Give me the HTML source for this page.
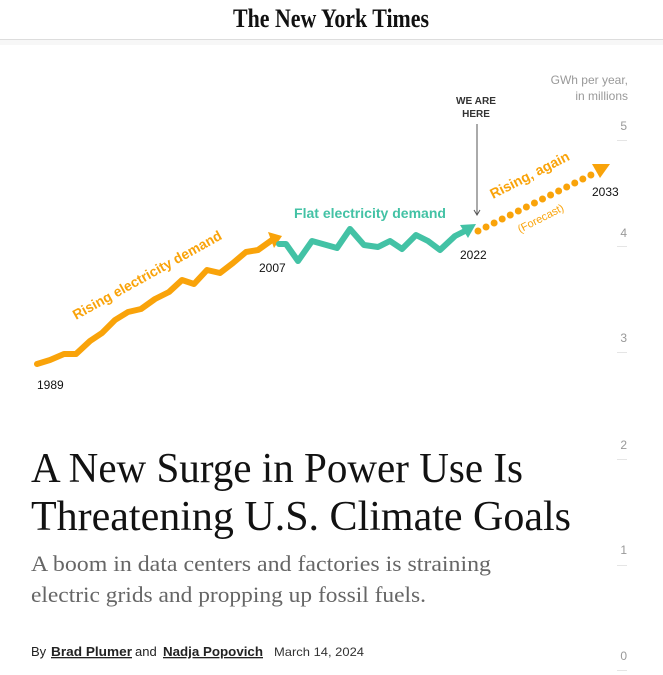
<!DOCTYPE html>
<html><head><style>body{margin:0;background:#fff}svg{display:block}</style></head><body>
<svg width="663" height="675" viewBox="0 0 663 675" xmlns="http://www.w3.org/2000/svg">
<text x="331" y="27" text-anchor="middle" font-family="Liberation Serif,serif" font-weight="bold" font-size="26" textLength="196" lengthAdjust="spacingAndGlyphs" fill="#111">The New York Times</text>
<rect x="0" y="39" width="663" height="1" fill="#ddd"/>
<rect x="0" y="40" width="663" height="5" fill="#f7f7f7"/>
<g font-family="Liberation Sans,sans-serif" font-size="12" fill="#999" text-anchor="end">
<text x="628" y="84">GWh per year,</text><text x="628" y="100">in millions</text>
<text x="627" y="130">5</text><text x="627" y="237">4</text><text x="627" y="342">3</text><text x="627" y="449">2</text><text x="627" y="554">1</text><text x="627" y="660">0</text>
</g>
<g fill="#e5e5e5"><rect x="617" y="140" width="10" height="1"/><rect x="617" y="246" width="10" height="1"/><rect x="617" y="352" width="10" height="1"/><rect x="617" y="459" width="10" height="1"/><rect x="617" y="565" width="10" height="1"/><rect x="617" y="670" width="10" height="1"/></g>
<text x="476" y="104" text-anchor="middle" font-family="Liberation Sans,sans-serif" font-weight="bold" font-size="10" fill="#333" textLength="40" lengthAdjust="spacingAndGlyphs">WE ARE</text>
<text x="476" y="117" text-anchor="middle" font-family="Liberation Sans,sans-serif" font-weight="bold" font-size="10" fill="#333">HERE</text>
<line x1="477" y1="124" x2="477" y2="214" stroke="#555" stroke-width="1"/>
<path d="M474,210 L477,215 L480,210" fill="none" stroke="#555"/>
<polyline points="37,364 50,360 64,354 76,354 90,341 102,333 115,320 128,312 141,309 155,299 169,292 182,280 194,284 207,270 220,273 233,263 246,252 258,250 272,240" fill="none" stroke="#f9a30a" stroke-width="6" stroke-linejoin="round" stroke-linecap="round"/>
<polygon points="268,232 282,236 274,248" fill="#f9a30a"/>
<polyline points="279,244 286,244 298,261 312,241 337,248 350,229 364,245 378,247 390,241 402,249 416,235 428,241 440,250 455,236 465,231" fill="none" stroke="#43c2a5" stroke-width="6" stroke-linejoin="round" stroke-linecap="round"/>
<polygon points="460,225 476,224 468,238" fill="#43c2a5"/>
<line x1="478" y1="231" x2="597" y2="172" stroke="#f9a30a" stroke-width="7" stroke-linecap="round" stroke-dasharray="0 9"/>
<polygon points="592,164 610,164 600,178" fill="#f9a30a"/>
<g font-family="Liberation Sans,sans-serif" font-size="12" fill="#111">
<text x="37" y="389">1989</text><text x="259" y="272">2007</text><text x="460" y="259">2022</text><text x="592" y="196">2033</text></g>
<text transform="translate(76,320) rotate(-29)" font-family="Liberation Sans,sans-serif" font-weight="bold" font-size="14" fill="#f9a30a" textLength="168" lengthAdjust="spacingAndGlyphs">Rising electricity demand</text>
<text x="294" y="218" font-family="Liberation Sans,sans-serif" font-weight="bold" font-size="14" fill="#43c2a5" textLength="152" lengthAdjust="spacingAndGlyphs">Flat electricity demand</text>
<text transform="translate(493,199) rotate(-27)" font-family="Liberation Sans,sans-serif" font-weight="bold" font-size="14" fill="#f9a30a">Rising, again</text>
<text transform="translate(520,233) rotate(-27)" font-family="Liberation Sans,sans-serif" font-size="11" fill="#f9a30a">(Forecast)</text>
<g font-family="Liberation Serif,serif" fill="#121212" font-size="42">
<text x="31" y="482" textLength="492" lengthAdjust="spacingAndGlyphs">A New Surge in Power Use Is</text>
<text x="31" y="530" textLength="540" lengthAdjust="spacingAndGlyphs">Threatening U.S. Climate Goals</text></g>
<g font-family="Liberation Serif,serif" fill="#666" font-size="22">
<text x="31" y="571" textLength="460" lengthAdjust="spacingAndGlyphs">A boom in data centers and factories is straining</text>
<text x="31" y="602" textLength="395" lengthAdjust="spacingAndGlyphs">electric grids and propping up fossil fuels.</text></g>
<g font-family="Liberation Sans,sans-serif" fill="#222" font-size="13">
<text x="31" y="656">By</text>
<text x="51" y="656" font-weight="bold" text-decoration="underline" textLength="81" lengthAdjust="spacingAndGlyphs">Brad Plumer</text>
<text x="135" y="656">and</text>
<text x="163" y="656" font-weight="bold" text-decoration="underline" textLength="100" lengthAdjust="spacingAndGlyphs">Nadja Popovich</text>
<text x="274" y="656" font-size="12" fill="#333" textLength="90" lengthAdjust="spacingAndGlyphs">March 14, 2024</text></g>
</svg>
</body></html>
